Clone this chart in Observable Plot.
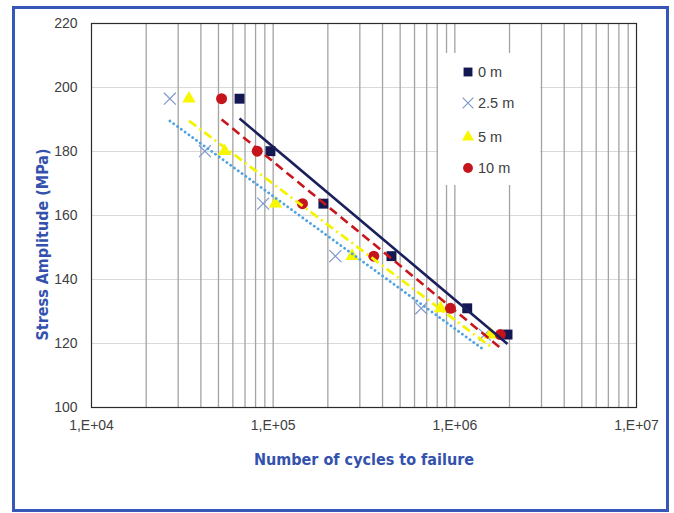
<!DOCTYPE html>
<html><head><meta charset="utf-8">
<script src="https://cdn.jsdelivr.net/npm/d3@7"></script>
<script src="https://cdn.jsdelivr.net/npm/@observablehq/plot@0.6"></script>
<style>
body{margin:0;background:#fff;}
#wrap{position:relative;width:674px;height:513px;overflow:hidden;}
#border{position:absolute;left:12px;top:6px;width:651px;height:500px;border:3px solid #3656b8;pointer-events:none;}
#legend{position:absolute;left:438px;top:53px;width:102px;height:132px;background:#fff;}
#legend svg{display:block;}
</style></head>
<body><div id="wrap"><div id="chart"></div><div id="legend"></div><div id="border"></div></div>
<script>
// ---- data ----
const stress = [196.5, 180.1, 163.7, 147.3, 131.0, 122.8];          // MPa
const cycles0m   = [65300, 96600, 189000, 448000, 1170000, 1950000];
const cycles2_5m = [27000, 42100, 88100, 220000, 653000, 1460000];
const cycles5m   = [34400, 54000, 103000, 272000, 834000, 1570000];
const cycles10m  = [52000, 81700, 145000, 358000, 946000, 1780000];
const seriesNames = ["0 m", "2.5 m", "5 m", "10 m"];
const yTicks = [100, 120, 140, 160, 180, 200, 220];
const xTickValues = [1e4, 1e5, 1e6, 1e7];
const xTickLabels = ["1,E+04", "1,E+05", "1,E+06", "1,E+07"];
const xTitle = "Number of cycles to failure";
const yTitle = "Stress Amplitude (MPa)";

// ---- styles ----
const styles = {
  "0 m":   {color: "#131852", symbol: "square",   r: 5.6, line: "#1b1f5c", dash: null, width: 2.6},
  "2.5 m": {color: "#7f98cc", symbol: "times",    r: 5.5, line: "#4fa3e0", dash: "0.1,4.6", width: 2.8},
  "5 m":   {color: "#f7f700", symbol: "triangle", r: 5.0, line: "#f4f400", dash: "9,4,2,4", width: 2.8},
  "10 m":  {color: "#c5141b", symbol: "circle",   r: 5.5, line: "#c8161d", dash: "9,5", width: 2.6}
};
const cyclesBySeries = {"0 m": cycles0m, "2.5 m": cycles2_5m, "5 m": cycles5m, "10 m": cycles10m};

const points = seriesNames.flatMap(s => cyclesBySeries[s].map((n, i) => ({series: s, n, s: stress[i]})));

// logarithmic trendlines (least squares of stress on log10 N), drawn between min and max N
function trend(name) {
  const c = cyclesBySeries[name];
  const u = c.map(Math.log10);
  const mu = d3.mean(u), ms = d3.mean(stress);
  const b = d3.sum(u, (v, i) => (v - mu) * (stress[i] - ms)) / d3.sum(u, v => (v - mu) ** 2);
  const ext = d3.extent(c);
  return ext.map(n => ({series: name, n, s: ms + b * (Math.log10(n) - mu)}));
}

const xGrid = [];
for (const e of [4, 5, 6]) for (let k = 2; k <= 10; k++) xGrid.push(k * 10 ** e);

const marks = [
  Plot.gridY(yTicks.slice(1, -1), {stroke: "#d9d9d9", strokeOpacity: 1, strokeWidth: 1.2}),
  Plot.gridX(xGrid.filter(v => v < 1e7), {stroke: "#a3a3a3", strokeOpacity: 1, strokeWidth: 1.3}),
  Plot.frame({stroke: "#2b2b2b", strokeWidth: 1.2}),
  Plot.axisY({ticks: yTicks, tickSize: 0, tickPadding: 14, label: null}),
  Plot.axisX({ticks: xTickValues, tickSize: 0, tickPadding: 13, label: null,
              tickFormat: d => xTickLabels[xTickValues.indexOf(d)]})
];
for (const name of seriesNames) {
  const st = styles[name];
  const pts = points.filter(d => d.series === name);
  if (st.symbol === "times") {
    marks.push(Plot.dot(pts, {x: "n", y: "s", symbol: "times", r: st.r, stroke: st.color, strokeWidth: 1.2}));
  } else {
    marks.push(Plot.dot(pts, {x: "n", y: "s", symbol: st.symbol, r: st.r, fill: st.color, stroke: "none"}));
  }
}
for (const name of seriesNames) {
  const st = styles[name];
  marks.push(Plot.line(trend(name), {x: "n", y: "s", stroke: st.line, strokeWidth: st.width,
    strokeDasharray: st.dash || undefined, strokeLinecap: st.dash && st.dash.startsWith("0.1") ? "round" : "butt"}));
}
marks.push(Plot.text([xTitle], {text: d => d, frameAnchor: "bottom", dy: 57, fill: "#3452ad",
  fontWeight: "bold", fontSize: 16, fontFamily: "DejaVu Sans Condensed, DejaVu Sans"}));
marks.push(Plot.text([yTitle], {text: d => d, frameAnchor: "left", textAnchor: "middle", dx: -49, dy: 29, rotate: -90,
  fill: "#3452ad", fontWeight: "bold", fontSize: 16, fontFamily: "DejaVu Sans Condensed, DejaVu Sans"}));

const chart = Plot.plot({
  width: 674, height: 513,
  marginLeft: 91, marginRight: 38, marginTop: 23, marginBottom: 106,
  style: {fontFamily: "Liberation Sans, Arial, sans-serif", fontSize: "14px", color: "#404040", background: "#fff"},
  x: {type: "log", domain: [1e4, 1e7]},
  y: {domain: [100, 220]},
  marks
});
document.getElementById("chart").append(chart);

// legend (white box over the grid, like the original)
const lg = d3.select("#legend").append("svg").attr("width", 102).attr("height", 132);
const symMap = {square: d3.symbolSquare, times: d3.symbolTimes, triangle: d3.symbolTriangle, circle: d3.symbolCircle};
const rowY = [19, 50, 84, 115];
seriesNames.forEach((name, i) => {
  const st = styles[name];
  const g = lg.append("g").attr("transform", `translate(30,${rowY[i]})`);
  const size = Math.PI * st.r * st.r * 0.8;
  const p = g.append("path").attr("d", d3.symbol(symMap[st.symbol], size)());
  if (st.symbol === "times") p.attr("fill", "none").attr("stroke", st.color).attr("stroke-width", 1.2);
  else p.attr("fill", st.color);
  lg.append("text").attr("x", 40).attr("y", rowY[i]).attr("dy", "0.35em")
    .attr("font-family", "Liberation Sans, Arial, sans-serif").attr("font-size", 14.5).attr("fill", "#404040")
    .text(name);
});
</script></body></html>
